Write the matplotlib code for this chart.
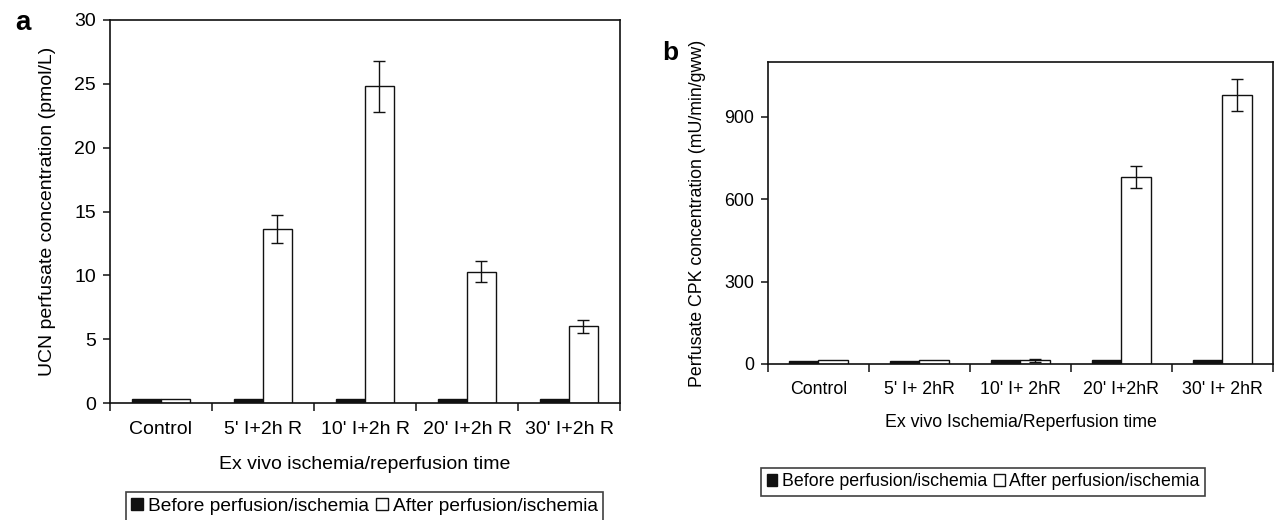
import numpy as np
import matplotlib
matplotlib.use("Agg")
import matplotlib.pyplot as plt
from matplotlib.patches import Patch

plt.rcParams['font.family'] = ['Liberation Sans', 'DejaVu Sans']

# panel a: UCN
cats_a = ["Control", "5' I+2h R", "10' I+2h R", "20' I+2h R", "30' I+2h R"]
before_a = [0.3, 0.3, 0.3, 0.3, 0.3]
after_a = [0.3, 13.6, 24.8, 10.3, 6.0]
after_a_err = [0, 1.1, 2.0, 0.8, 0.48]

# panel b: CPK
cats_b = ["Control", "5' I+ 2hR", "10' I+ 2hR", "20' I+2hR", "30' I+ 2hR"]
before_b = [12, 10, 14, 15, 15]
after_b = [15, 14, 14, 680, 980]
after_b_err = [0, 0, 5, 40, 58]

legend_labels = ["Before perfusion/ischemia", "After perfusion/ischemia"]

W, H = 1275, 520
fig = plt.figure(figsize=(W / 100, H / 100), dpi=100)


def px_axes(l, r, t, b):
    return fig.add_axes([l / W, 1 - b / H, (r - l) / W, (b - t) / H])


def draw(ax, cats, before, after, err, ylim, yticks, ylabel, xlabel, fs, barw, capsize, tpad, lpad):
    x = np.arange(len(cats))
    ax.bar(x - barw / 2, before, barw, color="#111111", edgecolor="#111111", linewidth=1.0)
    ax.bar(x + barw / 2, after, barw, color="white", edgecolor="#111111", linewidth=1.0)
    xe = [xi + barw / 2 for xi, e in zip(x, err) if e > 0]
    ye = [a for a, e in zip(after, err) if e > 0]
    ee = [e for e in err if e > 0]
    ax.errorbar(xe, ye, yerr=ee, fmt="none", ecolor="#111111", elinewidth=1.0,
                capsize=capsize, capthick=1.0)
    ax.set_xlim(-0.5, len(cats) - 0.5)
    ax.set_ylim(*ylim)
    ax.set_yticks(yticks)
    ax.set_xticks(np.arange(len(cats) + 1) - 0.5, minor=False)
    ax.set_xticklabels([])
    ax.set_xticks(x, minor=True)
    ax.set_xticklabels(cats, minor=True, fontsize=fs)
    ax.tick_params(axis="x", which="major", direction="out", length=6, width=1.1, color="#111111")
    ax.tick_params(axis="x", which="minor", length=0, pad=tpad)
    ax.tick_params(axis="y", direction="out", length=5, width=1.1, color="#111111",
                   labelsize=fs, pad=5)
    for s in ax.spines.values():
        s.set_linewidth(1.2)
        s.set_color("#111111")
    ax.set_ylabel(ylabel, fontsize=fs)
    ax.set_xlabel(xlabel, fontsize=fs, labelpad=lpad)


ax1 = px_axes(110, 620, 20, 403)
draw(ax1, cats_a, before_a, after_a, after_a_err, (0, 30), np.arange(0, 31, 5),
     "UCN perfusate concentration (pmol/L)", "Ex vivo ischemia/reperfusion time",
     14, 0.28, 4.5, 13, 13)
ax1.yaxis.set_label_coords(-0.106, 0.5)

ax2 = px_axes(768, 1273, 62, 364)
draw(ax2, cats_b, before_b, after_b, after_b_err, (0, 1100), [0, 300, 600, 900],
     "Perfusate CPK concentration (mU/min/gww)", "Ex vivo Ischemia/Reperfusion time",
     12.8, 0.29, 4, 12, 12)
ax2.yaxis.set_label_coords(-0.123, 0.5)

handles = [Patch(facecolor="#111111", edgecolor="#111111"),
           Patch(facecolor="white", edgecolor="#111111")]

for cx, top, fs in [(364.5, 492, 13.8), (983, 468, 12.8)]:
    leg = fig.legend(handles, legend_labels, loc="upper center", ncol=2,
                     bbox_to_anchor=(cx / W, 1 - top / H), fontsize=fs,
                     frameon=True, fancybox=False, edgecolor="#111111",
                     handlelength=0.6, handleheight=0.6, handletextpad=0.25,
                     columnspacing=0.4, borderpad=0.3, borderaxespad=0)
    leg.get_frame().set_linewidth(1.2)

fig.text(15 / W, 1 - 23 / H, "a", fontsize=20, fontweight="bold", ha="left", va="center")
fig.text(662 / W, 1 - 53 / H, "b", fontsize=19, fontweight="bold", ha="left", va="center")

fig.savefig("out.png", dpi=100)
